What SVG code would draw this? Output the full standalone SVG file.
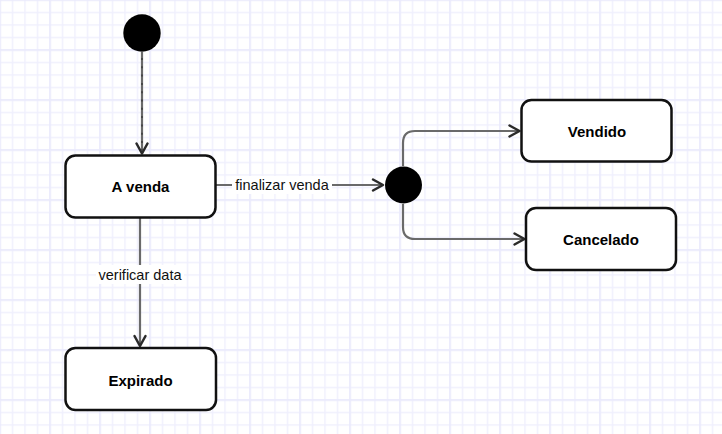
<svg xmlns="http://www.w3.org/2000/svg" width="722" height="434" viewBox="0 0 722 434">
  <defs>
    <pattern id="gridMinor" x="-0.75" y="-0.75" width="12.5" height="12.5" patternUnits="userSpaceOnUse">
      <rect x="0" y="0" width="1.5" height="12.5" fill="#f0f0fd"/>
      <rect x="0" y="0" width="12.5" height="1.5" fill="#f0f0fd"/>
    </pattern>
    <pattern id="gridMajor" x="-0.75" y="-0.75" width="50" height="50" patternUnits="userSpaceOnUse">
      <rect x="0" y="0" width="1.5" height="50" fill="#e9e9fb"/>
      <rect x="0" y="0" width="50" height="1.5" fill="#e9e9fb"/>
    </pattern>
    <marker id="open-arrow" markerUnits="userSpaceOnUse" markerWidth="16" markerHeight="16" refX="11" refY="6" orient="auto" overflow="visible">
      <path d="M1,0.5 L11,6 L1,11.5" fill="none" stroke="#2a2a2a" stroke-width="2.5" stroke-linecap="round" stroke-linejoin="round"/>
    </marker>
    <style>
      .state rect { fill: #ffffff; stroke: #111111; stroke-width: 2.5; }
      .state text { font-family: "Liberation Sans", Arial, sans-serif; font-size: 15px; font-weight: bold; fill: #000000; text-anchor: middle; }
      .pseudo { fill: #000000; }
      .edge { fill: none; stroke: #6a6a6a; stroke-width: 2.2; }
      .edge-label rect { fill: #ffffff; }
      .edge-label text { font-family: "Liberation Sans", Arial, sans-serif; font-size: 14.5px; fill: #111111; text-anchor: middle; }
    </style>
  </defs>

  <!-- background grid -->
  <rect x="0" y="0" width="722" height="434" fill="#ffffff"/>
  <rect x="0" y="0" width="722" height="434" fill="url(#gridMinor)"/>
  <rect x="0" y="0" width="722" height="434" fill="url(#gridMajor)"/>

  <!-- transitions -->
  <g id="connectors">
    <path class="edge" d="M142,52 L142,153.5" marker-end="url(#open-arrow)"/>
    <path d="M142,58 L142,150" fill="none" stroke="#404040" stroke-width="1.6" stroke-dasharray="2 6.3"/>
    <path class="edge" d="M216,185 L383,185" marker-end="url(#open-arrow)"/>
    <path class="edge" d="M403,166 L403,143 Q403,131 415,131 L519.5,131" marker-end="url(#open-arrow)"/>
    <path class="edge" d="M403,204 L403,227 Q403,239 415,239 L524.5,239" marker-end="url(#open-arrow)"/>
    <path class="edge" d="M140,218 L140,346" marker-end="url(#open-arrow)"/>
    <g class="edge-label">
      <rect x="232" y="176" width="100" height="18"/>
      <text x="282" y="190">finalizar venda</text>
    </g>
    <g class="edge-label">
      <rect x="96" y="265" width="88" height="19"/>
      <text x="140" y="280">verificar data</text>
    </g>
  </g>

  <!-- initial pseudo-state -->
  <g id="initial">
    <circle class="pseudo" cx="142" cy="33" r="18.7"/>
  </g>

  <!-- choice point after "finalizar venda" -->
  <g id="choice">
    <circle class="pseudo" cx="403.5" cy="185" r="18.5"/>
  </g>

  <g id="a-venda" class="state">
    <rect x="65.5" y="155.5" width="150" height="62" rx="10" ry="10"/>
    <text x="140.5" y="191.5">A venda</text>
  </g>

  <g id="vendido" class="state">
    <rect x="521.5" y="100" width="150" height="61.5" rx="10" ry="10"/>
    <text x="597" y="136.5">Vendido</text>
  </g>

  <g id="cancelado" class="state">
    <rect x="526" y="208" width="150" height="62" rx="10" ry="10"/>
    <text x="601" y="244.5">Cancelado</text>
  </g>

  <g id="expirado" class="state">
    <rect x="65.5" y="348" width="150.5" height="62" rx="10" ry="10"/>
    <text x="140.5" y="385.5">Expirado</text>
  </g>
</svg>
